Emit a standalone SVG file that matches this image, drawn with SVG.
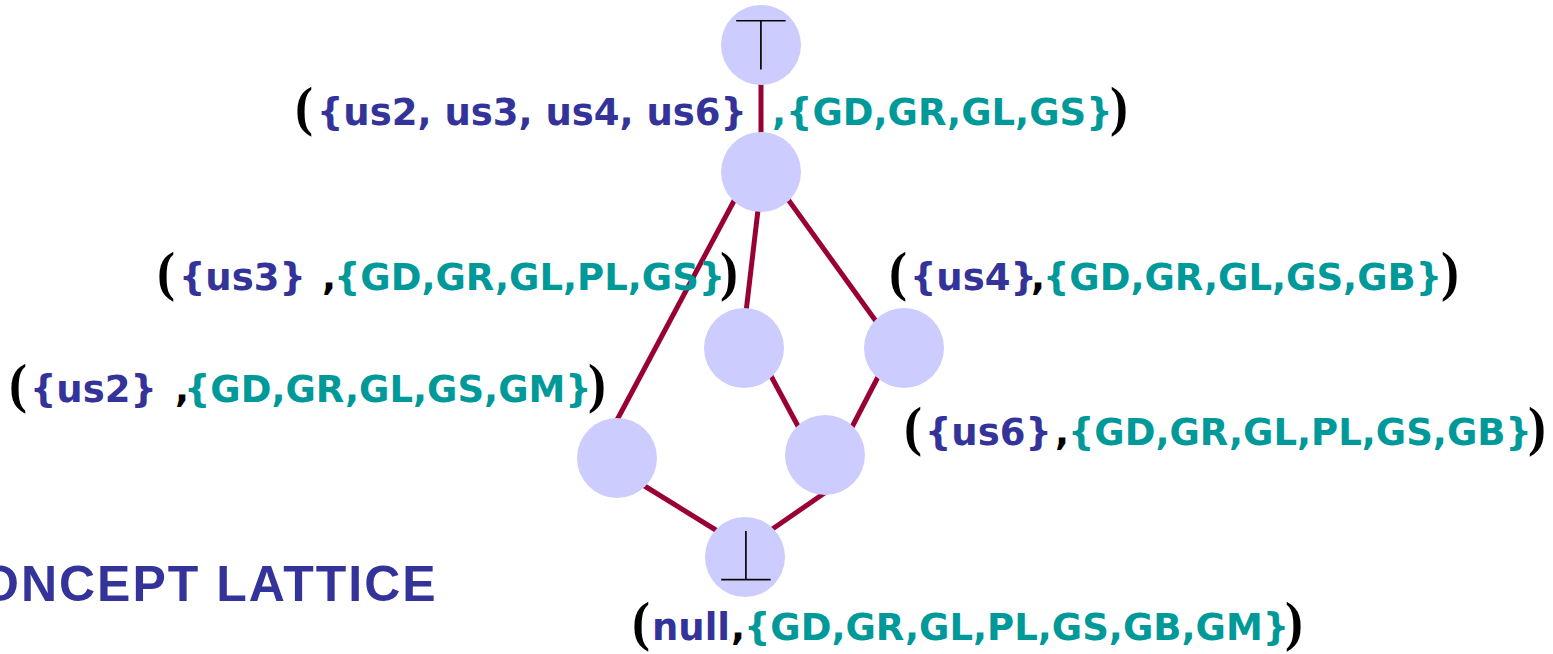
<svg xmlns="http://www.w3.org/2000/svg" width="1553" height="654" viewBox="0 0 1553 654">
<style>
.edge{stroke:#990033;stroke-width:5;fill:none}
.node{fill:#CCCCFF}
.t{font-family:"DejaVu Sans","Verdana",sans-serif;font-weight:bold;font-size:37px}
.p{font-family:"Liberation Serif","Times New Roman",serif;font-weight:bold;font-size:54px;fill:#000}
.ext{fill:#333399}
.int{fill:#009999}
.k{fill:#000}
.sym{font-family:"DejaVu Sans",sans-serif;font-size:75px;fill:#000;stroke:#CCCCFF;stroke-width:3;paint-order:normal}
.title{font-family:"Liberation Sans",Arial,sans-serif;font-weight:bold;font-size:50px;fill:#333399;letter-spacing:2px}
</style>
<rect width="1553" height="654" fill="#fff"/>
<g id="connectors">
<line class="edge" x1="761" y1="80" x2="761" y2="136"/>
<line class="edge" x1="735" y1="199" x2="617" y2="420"/>
<line class="edge" x1="758" y1="210" x2="746" y2="312"/>
<line class="edge" x1="787" y1="198" x2="878" y2="324"/>
<line class="edge" x1="771" y1="376" x2="799" y2="428"/>
<line class="edge" x1="879" y1="375" x2="851" y2="429"/>
<line class="edge" x1="643" y1="485" x2="719" y2="532"/>
<line class="edge" x1="826" y1="492" x2="771" y2="530"/>
</g>
<g id="n-top">
<circle class="node" cx="761" cy="45" r="40"/>
<text class="sym" x="761" y="71" text-anchor="middle">⊤</text>
</g>
<g id="n-1">
<circle class="node" cx="761" cy="172" r="40"/>
<text><tspan class="p" x="295" y="125">(</tspan><tspan class="t ext" x="317" y="125">{us2, us3, us4, us6}</tspan><tspan class="t int" x="772" y="125">,{GD,GR,GL,GS}</tspan><tspan class="p" x="1110" y="125">)</tspan></text>
</g>
<g id="n-us3">
<circle class="node" cx="744" cy="348" r="40"/>
</g>
<g id="n-us4">
<circle class="node" cx="904" cy="348" r="40"/>
</g>
<g id="n-us2">
<circle class="node" cx="617" cy="458" r="40"/>
</g>
<g id="n-us6">
<circle class="node" cx="825" cy="455" r="40"/>
</g>
<g id="n-bottom">
<circle class="node" cx="745" cy="557" r="40"/>
<text class="sym" x="746" y="582" text-anchor="middle">⊥</text>
</g>
<g id="labels">
<text><tspan class="p" x="157" y="290">(</tspan><tspan class="t ext" x="179" y="290">{us3}</tspan><tspan class="t k" x="322" y="290">,</tspan><tspan class="t int" x="334" y="290">{GD,GR,GL,PL,GS}</tspan><tspan class="p" x="720" y="290">)</tspan></text>
<text><tspan class="p" x="889" y="290">(</tspan><tspan class="t ext" x="910" y="290">{us4}</tspan><tspan class="t k" x="1031" y="290">,</tspan><tspan class="t int" x="1043" y="290">{GD,GR,GL,GS,GB}</tspan><tspan class="p" x="1441" y="290">)</tspan></text>
<text><tspan class="p" x="9" y="402">(</tspan><tspan class="t ext" x="30" y="402">{us2}</tspan><tspan class="t k" x="175" y="402">,</tspan><tspan class="t int" x="184" y="402">{GD,GR,GL,GS,GM}</tspan><tspan class="p" x="588" y="402">)</tspan></text>
<text><tspan class="p" x="904" y="445">(</tspan><tspan class="t ext" x="925" y="445">{us6}</tspan><tspan class="t k" x="1055" y="445">,</tspan><tspan class="t int" x="1068" y="445">{GD,GR,GL,PL,GS,GB}</tspan><tspan class="p" x="1528" y="445">)</tspan></text>
<text><tspan class="p" x="632" y="640">(</tspan><tspan class="t ext" x="652" y="640">null</tspan><tspan class="t k" x="731" y="640">,</tspan><tspan class="t int" x="744" y="640">{GD,GR,GL,PL,GS,GB,GM}</tspan><tspan class="p" x="1285" y="640">)</tspan></text>
</g>
<text class="title" x="-20" y="601">ONCEPT LATTICE</text>
</svg>
